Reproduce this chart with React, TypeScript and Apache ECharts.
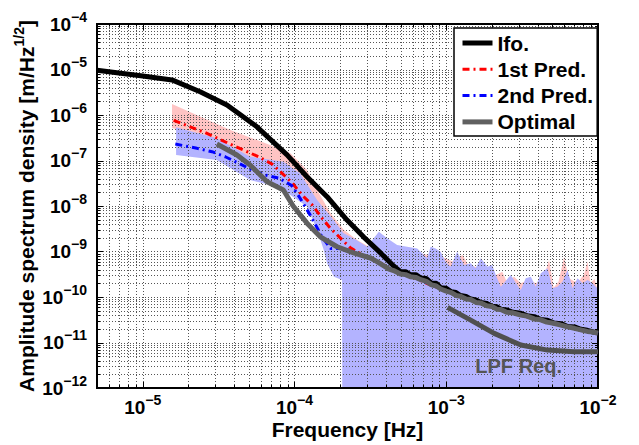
import React, { useEffect, useRef } from "react";
import * as echarts from "echarts";

const FONT = '"Liberation Sans", Arial, Helvetica, sans-serif';

// axis ranges and tick labels (powers of ten)
const xRange = [5e-6, 1e-2];
const yRange = [1e-12, 1e-4];
const xTickExps = [-5, -4, -3, -2];
const yTickExps = [-12, -11, -10, -9, -8, -7, -6, -5, -4];

// series values [frequency Hz, ASD]
const ifo: [number, number][] = [
  [5e-6, 9.6e-6], [1.0e-5, 7.2e-6], [1.56e-5, 5.9e-6], [2.39e-5, 3.25e-6], [3.59e-5, 1.66e-6],
  [5.66e-5, 5.5e-7], [8.9e-5, 1.35e-7], [1.21e-4, 4.4e-8], [1.64e-4, 1.6e-8], [2.22e-4, 4.9e-9],
  [2.85e-4, 2.1e-9], [3.69e-4, 9.3e-10], [4.5e-4, 4.8e-10], [5.0e-4, 3.6e-10], [5.4e-4, 3.6e-10],
  [5.8e-4, 3.1e-10], [6.3e-4, 3.1e-10], [6.8e-4, 2.6e-10], [7.4e-4, 2.55e-10], [8.0e-4, 2.0e-10],
  [8.6e-4, 2.0e-10], [9.2e-4, 1.6e-10], [1.0e-3, 1.55e-10], [1.08e-3, 1.3e-10], [1.16e-3, 1.25e-10],
  [1.24e-3, 1.08e-10], [1.35e-3, 1.03e-10], [1.45e-3, 9.0e-11], [1.57e-3, 8.6e-11], [1.69e-3, 7.6e-11],
  [1.85e-3, 7.2e-11], [2.0e-3, 6.3e-11], [2.15e-3, 6.1e-11], [2.29e-3, 5.4e-11], [2.5e-3, 5.2e-11],
  [2.75e-3, 4.6e-11], [3.1e-3, 4.4e-11], [3.4e-3, 3.9e-11], [3.8e-3, 3.7e-11], [4.2e-3, 3.2e-11],
  [4.6e-3, 3.1e-11], [5.1e-3, 2.7e-11], [5.7e-3, 2.6e-11], [6.3e-3, 2.25e-11], [7.0e-3, 2.2e-11],
  [7.7e-3, 1.95e-11], [8.5e-3, 1.85e-11], [9.3e-3, 1.7e-11], [1e-2, 1.65e-11],
];

const pred1: [number, number][] = [
  [1.6e-5, 7.6e-7], [2.58e-5, 4.1e-7], [3.87e-5, 2.2e-7], [5.8e-5, 1.21e-7], [7.1e-5, 8.4e-8],
  [8.3e-5, 5.2e-8], [9.6e-5, 3.3e-8], [1.12e-4, 1.75e-8], [1.31e-4, 1.05e-8], [1.52e-4, 5.4e-9],
  [1.73e-4, 3.2e-9], [2.34e-4, 1.2e-9], [2.8e-4, 8.5e-10], [3.5e-4, 6.2e-10], [4.5e-4, 3.7e-10],
  [6e-4, 2.75e-10], [8e-4, 1.8e-10], [1e-3, 1.38e-10], [1.3e-3, 9.6e-11], [1.7e-3, 7.3e-11],
  [2.2e-3, 5.5e-11], [3e-3, 4.1e-11], [4e-3, 3.2e-11], [5.5e-3, 2.5e-11], [7.5e-3, 1.95e-11], [1e-2, 1.6e-11],
];

const pred2: [number, number][] = [
  [1.64e-5, 2.3e-7], [2.28e-5, 1.85e-7], [2.86e-5, 1.56e-7], [3.5e-5, 1.21e-7], [4.29e-5, 8.7e-8],
  [5.25e-5, 6.2e-8], [6.4e-5, 4.8e-8], [7.9e-5, 4.1e-8], [9.6e-5, 2.8e-8], [1.09e-4, 1.48e-8],
  [1.27e-4, 6.3e-9], [1.52e-4, 2.1e-9], [1.73e-4, 1.17e-9], [2.11e-4, 1.17e-9], [2.59e-4, 9.1e-10],
  [3.2e-4, 7.0e-10], [4e-4, 4.6e-10], [5e-4, 3.3e-10], [6.5e-4, 2.5e-10], [8.5e-4, 1.7e-10],
  [1.1e-3, 1.2e-10], [1.4e-3, 9e-11], [1.8e-3, 6.8e-11], [2.4e-3, 5.0e-11], [3.2e-3, 3.9e-11],
  [4.4e-3, 3.0e-11], [6e-3, 2.35e-11], [8e-3, 1.85e-11], [1e-2, 1.58e-11],
];

const optimal: [number, number][] = [
  [3.08e-5, 2.3e-7], [4.18e-5, 1.32e-7], [5.1e-5, 8e-8], [6.6e-5, 3.4e-8], [8.45e-5, 2.25e-8],
  [9.8e-5, 1.0e-8], [1.21e-4, 4.2e-9], [1.48e-4, 2.1e-9], [1.91e-4, 1.27e-9], [2.45e-4, 9.3e-10],
  [3.17e-4, 7.2e-10], [3.5e-4, 6.0e-10], [3.86e-4, 4.9e-10], [4.2e-4, 4.1e-10], [4.5e-4, 3.8e-10],
  [5.0e-4, 3.2e-10], [5.4e-4, 3.1e-10], [5.8e-4, 2.8e-10], [6.3e-4, 2.7e-10], [6.8e-4, 2.4e-10],
  [7.4e-4, 2.2e-10], [8.0e-4, 1.85e-10], [8.6e-4, 1.75e-10], [9.2e-4, 1.5e-10], [1.0e-3, 1.35e-10],
  [1.08e-3, 1.25e-10], [1.16e-3, 1.08e-10], [1.24e-3, 1.04e-10], [1.35e-3, 9.0e-11], [1.45e-3, 8.8e-11],
  [1.57e-3, 7.6e-11], [1.69e-3, 7.4e-11], [1.85e-3, 6.4e-11], [2.0e-3, 6.2e-11], [2.15e-3, 5.4e-11],
  [2.29e-3, 5.3e-11], [2.5e-3, 4.6e-11], [2.75e-3, 4.5e-11], [3.1e-3, 4.0e-11], [3.4e-3, 3.8e-11],
  [3.8e-3, 3.3e-11], [4.2e-3, 3.15e-11], [4.6e-3, 2.8e-11], [5.1e-3, 2.65e-11], [5.7e-3, 2.4e-11],
  [6.3e-3, 2.2e-11], [7.0e-3, 2.05e-11], [7.7e-3, 1.9e-11], [8.5e-3, 1.75e-11], [9.3e-3, 1.7e-11], [1e-2, 1.6e-11],
];

const lpfReq: [number, number][] = [
  [1.02e-3, 5.9e-11], [1.45e-3, 3.1e-11], [2.07e-3, 1.59e-11], [3.1e-3, 8.8e-12],
  [4.65e-3, 6.8e-12], [6.97e-3, 6.3e-12], [1e-2, 6.3e-12],
];
const lpfLabelAt: [number, number] = [3e-3, 3e-12];

// uncertainty bands
const band1Upper: [number, number][] = [
  [1.56e-5, 1.75e-6], [3.78e-5, 4.7e-7], [6.9e-5, 2.2e-7], [9.4e-5, 1.44e-7], [1.21e-4, 6.2e-8],
  [1.41e-4, 2.25e-8], [1.73e-4, 6.9e-9], [2.11e-4, 3.0e-9], [2.59e-4, 1.8e-9], [3.2e-4, 1.2e-9],
  [4.5e-4, 1.3e-9], [6.0e-4, 1.0e-9], [7.5e-4, 8.5e-10], [9.0e-4, 8e-10], [1.0e-3, 7e-10],
  [1.1e-3, 6e-10], [1.28e-3, 8.4e-10], [1.4e-3, 5e-10], [1.6e-3, 4.5e-10], [1.9e-3, 4e-10],
  [2.12e-3, 3e-10], [2.34e-3, 3.6e-10], [2.5e-3, 2.2e-10], [2.8e-3, 2.8e-10], [3.1e-3, 2.0e-10],
  [3.5e-3, 2.4e-10], [3.9e-3, 2.0e-10], [4.4e-3, 2.8e-10], [4.76e-3, 6.5e-10], [5.1e-3, 1.6e-10],
  [5.5e-3, 2.2e-10], [5.98e-3, 7.7e-10], [6.4e-3, 2.6e-10], [7.0e-3, 2.2e-10], [7.6e-3, 2.4e-10],
  [8.11e-3, 3.2e-10], [8.53e-3, 6e-10], [8.9e-3, 2e-10], [9.5e-3, 2.5e-10], [1e-2, 1.3e-10],
];
const band1Lower: [number, number][] = [
  [1.56e-5, 5.2e-7], [3.08e-5, 2.9e-7], [5.1e-5, 1.15e-7], [8.45e-5, 8.8e-8], [1.09e-4, 4.9e-8],
  [1.41e-4, 1.25e-8], [1.81e-4, 4.5e-9], [2.1e-4, 2.3e-9], [2.3e-4, 1e-14], [1e-2, 1e-14],
];
const band2Upper: [number, number][] = [
  [1.66e-5, 5.37e-7], [3.08e-5, 3.08e-7], [5.1e-5, 1.21e-7], [8.45e-5, 9.4e-8], [1.09e-4, 5.2e-8],
  [1.41e-4, 1.36e-8], [1.81e-4, 4.92e-9], [2.1e-4, 2.55e-9], [2.56e-4, 1.79e-9], [3.01e-4, 1.27e-9],
  [3.33e-4, 1.95e-9], [3.6e-4, 2.72e-9], [4.08e-4, 1.95e-9], [4.75e-4, 1.39e-9], [5.53e-4, 1.27e-9],
  [6.44e-4, 1.17e-9], [7.5e-4, 7.1e-10], [7.89e-4, 1.27e-9], [8.51e-4, 1.17e-9], [9.18e-4, 9.9e-10],
  [9.91e-4, 5.97e-10], [1.07e-3, 4.63e-10], [1.18e-3, 9.9e-10], [1.31e-3, 5.05e-10], [1.45e-3, 5.5e-10],
  [1.56e-3, 4.28e-10], [1.69e-3, 7.1e-10], [1.87e-3, 4.63e-10], [2.01e-3, 5.05e-10], [2.12e-3, 3.05e-10],
  [2.29e-3, 1.68e-10], [2.66e-3, 3.05e-10], [2.94e-3, 1.84e-10], [3.1e-3, 1.43e-10], [3.34e-3, 2.58e-10],
  [3.61e-3, 2.79e-10], [3.89e-3, 1.68e-10], [4.2e-3, 3.32e-10], [4.65e-3, 4.28e-10], [5.01e-3, 1.55e-10],
  [5.41e-3, 1.68e-10], [5.83e-3, 2.17e-10], [6.3e-3, 3.92e-10], [6.79e-3, 1.55e-10], [7.33e-3, 2.58e-10],
  [7.91e-3, 2.0e-10], [8.53e-3, 2.37e-10], [9.2e-3, 2.0e-10], [1e-2, 1.5e-10],
];
const band2Lower: [number, number][] = [
  [1.66e-5, 1.32e-7], [3.08e-5, 1.03e-7], [5.1e-5, 3.73e-8], [6.9e-5, 2.9e-8], [9.4e-5, 1.75e-8],
  [1.21e-4, 9.7e-9], [1.41e-4, 2.97e-9], [1.56e-4, 1.08e-9], [1.64e-4, 5.5e-10], [1.82e-4, 2.79e-10],
  [2.06e-4, 2.37e-10], [2.07e-4, 1e-14], [1e-2, 1e-14],
];

// grid line positions: every 1..9 x 10^k
const mantissas = [1, 2, 3, 4, 5, 6, 7, 8, 9];
function gridValues(lo: number, hi: number): [number, boolean][] {
  const out: [number, boolean][] = [];
  for (let e = Math.floor(Math.log10(lo)); e <= Math.ceil(Math.log10(hi)); e++) {
    for (const m of mantissas) {
      const v = m * Math.pow(10, e);
      if (v >= lo * 0.9999 && v <= hi * 1.0001) out.push([v, m === 1]);
    }
  }
  return out;
}
const xGrid = gridValues(xRange[0], xRange[1]);
const yGrid = gridValues(yRange[0], yRange[1]);

const powLabel = (exps: number[]) => (v: number) => {
  const e = Math.round(Math.log10(v));
  if (Math.abs(Math.log10(v) - e) > 1e-6 || exps.indexOf(e) < 0) return "";
  return `{base|10}{sup|${e < 0 ? "\u2212" : ""}${Math.abs(e)}}`;
};

const labelRich = {
  base: { fontSize: 19, fontWeight: "bold", fontFamily: FONT, color: "#000", lineHeight: 20 },
  sup: { fontSize: 14, fontWeight: "bold", fontFamily: FONT, color: "#000", lineHeight: 14, padding: [0, 0, 15, 0] },
};

function renderFrame(params: any, api: any) {
  const cs = params.coordSys;
  const x0 = cs.x, y0 = cs.y, x1 = cs.x + cs.width, y1 = cs.y + cs.height;
  const children: any[] = [];
  const dot = { stroke: "#555", lineWidth: 1, lineDash: [1, 2], fill: null };
  const tick = { stroke: "#000", lineWidth: 1, fill: null };
  xGrid.forEach(([v, major]) => {
    const px = Math.round(api.coord([v, 1e-8])[0]) + 0.5;
    if (px > x0 + 1.5 && px < x1 - 1.5) {
      children.push({ type: "line", shape: { x1: px, y1: y0, x2: px, y2: y1 }, style: dot });
    }
    const len = major ? 6 : 3;
    children.push({ type: "line", shape: { x1: px, y1: y1, x2: px, y2: y1 - len }, style: tick });
    children.push({ type: "line", shape: { x1: px, y1: y0, x2: px, y2: y0 + len }, style: tick });
  });
  yGrid.forEach(([v, major]) => {
    const py = Math.round(api.coord([1e-3, v])[1]) + 0.5;
    if (py > y0 + 1.5 && py < y1 - 1.5) {
      children.push({ type: "line", shape: { x1: x0, y1: py, x2: x1, y2: py }, style: dot });
    }
    const len = major ? 6 : 3;
    children.push({ type: "line", shape: { x1: x0, y1: py, x2: x0 + len, y2: py }, style: tick });
    children.push({ type: "line", shape: { x1: x1, y1: py, x2: x1 - len, y2: py }, style: tick });
  });
  children.push({
    type: "rect",
    shape: { x: x0, y: y0, width: cs.width, height: cs.height },
    style: { fill: null, stroke: "#000", lineWidth: 2 },
  });
  return { type: "group", children };
}

function bandRenderer(upper: [number, number][], lower: [number, number][], color: string) {
  return (params: any, api: any) => {
    const pts: number[][] = upper.map((p) => api.coord(p));
    for (let i = lower.length - 1; i >= 0; i--) pts.push(api.coord(lower[i]));
    return { type: "polygon", shape: { points: pts }, style: { fill: color, stroke: null } };
  };
}

const dashDot = [7, 4, 2, 4];
const hiddenSymbol = { color: "rgba(0,0,0,0)", opacity: 0, borderWidth: 0 };

export default function App() {
  const ref = useRef<HTMLDivElement>(null);
  useEffect(() => {
    if (!ref.current) return;
    const chart = echarts.init(ref.current, null, { renderer: "svg" });
    const option: any = {
      animation: false,
      backgroundColor: "#fff",
      grid: { left: 97, top: 24, width: 501, height: 364, outerBoundsMode: "none", containLabel: false },
      xAxis: {
        type: "log",
        logBase: 10,
        min: xRange[0],
        max: xRange[1],
        axisLine: { show: false },
        axisTick: { show: false },
        splitLine: { show: false },
        minorTick: { show: false },
        axisLabel: {
          formatter: powLabel(xTickExps),
          rich: labelRich,
          margin: 9,
          hideOverlap: false,
          fontSize: 19,
          fontWeight: "bold",
          fontFamily: FONT,
          color: "#000",
        },
        name: "Frequency [Hz]",
        nameLocation: "middle",
        nameGap: 31,
        nameMoveOverlap: false,
        nameTextStyle: { fontSize: 21, fontWeight: "bold", fontFamily: FONT, color: "#000" },
      },
      yAxis: {
        type: "log",
        logBase: 10,
        min: yRange[0],
        max: yRange[1],
        axisLine: { show: false },
        axisTick: { show: false },
        splitLine: { show: false },
        minorTick: { show: false },
        axisLabel: {
          formatter: powLabel(yTickExps),
          rich: labelRich,
          margin: 10,
          hideOverlap: false,
          fontSize: 19,
          fontWeight: "bold",
          fontFamily: FONT,
          color: "#000",
        },
        name: "{t|Amplitude spectrum density [m/Hz}{s|1/2}{t|]}",
        nameLocation: "middle",
        nameGap: 57,
        nameMoveOverlap: false,
        nameTextStyle: {
          fontSize: 21,
          fontWeight: "bold",
          fontFamily: FONT,
          color: "#000",
          rich: {
            t: { fontSize: 21, fontWeight: "bold", fontFamily: FONT, color: "#000" },
            s: { fontSize: 14, fontWeight: "bold", fontFamily: FONT, color: "#000", padding: [0, 0, 14, 0] },
          },
        },
      },
      legend: {
        show: true,
        orient: "vertical",
        left: 454,
        top: 28,
        itemWidth: 30,
        itemHeight: 12,
        itemGap: 5.3,
        padding: [4.5, 4, 3.6, 6],
        borderColor: "#000",
        borderWidth: 1.5,
        backgroundColor: "#fff",
        selectedMode: false,
        itemStyle: hiddenSymbol,
        lineStyle: { width: "inherit", type: "inherit" },
        textStyle: { fontSize: 21, fontWeight: "bold", fontFamily: FONT, color: "#000", lineHeight: 21 },
        data: [
          { name: "Ifo.", itemStyle: hiddenSymbol },
          { name: "1st Pred.", itemStyle: hiddenSymbol },
          { name: "2nd Pred.", itemStyle: hiddenSymbol },
          { name: "Optimal", itemStyle: hiddenSymbol },
        ],
      },
      series: [
        {
          type: "custom",
          name: "band1",
          z: 1,
          silent: true,
          clip: true,
          renderItem: bandRenderer(band1Upper, band1Lower, "#ffc4c4"),
          data: [[1e-3, 1e-8]],
        },
        {
          type: "custom",
          name: "band2",
          z: 2,
          silent: true,
          clip: true,
          renderItem: bandRenderer(band2Upper, band2Lower, "#b3b3ff"),
          data: [[1e-3, 1e-8]],
        },
        {
          type: "custom",
          name: "frame",
          z: 3,
          silent: true,
          renderItem: renderFrame,
          data: [[1e-3, 1e-8]],
        },
        {
          type: "line",
          name: "1st Pred.",
          z: 4,
          data: pred1,
          symbol: "none",
          lineStyle: { color: "#ff0000", width: 3, type: dashDot },
          itemStyle: { color: "#ff0000" },
        },
        {
          type: "line",
          name: "2nd Pred.",
          z: 5,
          data: pred2,
          symbol: "none",
          lineStyle: { color: "#0000ff", width: 3, type: dashDot },
          itemStyle: { color: "#0000ff" },
        },
        {
          type: "line",
          name: "Ifo.",
          z: 6,
          data: ifo,
          symbol: "none",
          lineStyle: { color: "#000", width: 5 },
          itemStyle: { color: "#000" },
        },
        {
          type: "line",
          name: "Optimal",
          z: 7,
          data: optimal,
          symbol: "none",
          lineStyle: { color: "#606060", width: 5 },
          itemStyle: { color: "#606060" },
        },
        {
          type: "line",
          name: "LPF Req.",
          z: 7,
          data: lpfReq,
          symbol: "none",
          lineStyle: { color: "#505050", width: 5 },
          itemStyle: { color: "#505050" },
          markPoint: {
            silent: true,
            symbol: "circle",
            symbolSize: 1,
            itemStyle: { color: "rgba(0,0,0,0)" },
            label: {
              show: true,
              position: "inside",
              formatter: "LPF Req.",
              fontSize: 20,
              fontWeight: "bold",
              fontFamily: FONT,
              color: "#555",
            },
            data: [{ coord: lpfLabelAt }],
          },
        },
      ],
    };
    chart.setOption(option);
    return () => chart.dispose();
  }, []);
  return (
    <div
      ref={ref}
      style={{ position: "fixed", left: 0, top: 0, width: 639, height: 445, background: "#fff" }}
    />
  );
}
